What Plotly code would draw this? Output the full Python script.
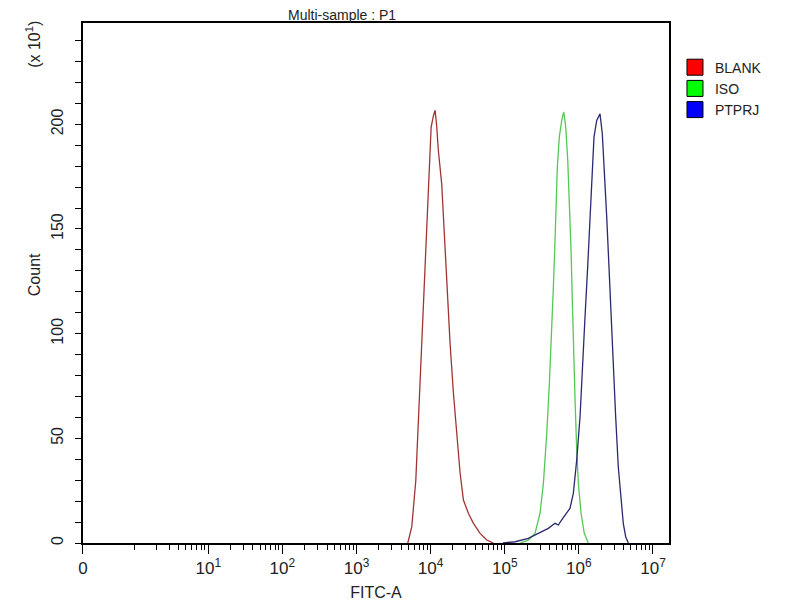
import plotly.graph_objects as go

# =========================================================
# DATA (FITC-A intensity vs count / 10)
# =========================================================
blank_x = [4920, 5570, 6310, 6840, 7600, 8000, 8690, 9160, 9630, 10160,
           10900, 11500, 12100, 12700, 14100, 15300, 16500, 18300, 20300,
           22500, 25000, 27700, 32300, 37800, 46500, 57200, 70200]
blank_y = [0, 7.8, 30, 58.7, 93.7, 117.6, 144.6, 163.7, 179.6, 198.7,
           204, 206.7, 198.7, 187.6, 171.7, 147.8, 124, 95.3, 71.5,
           52.4, 33.3, 20.5, 14.2, 9.4, 4.6, 1.4, 0]

iso_x = [161000, 208000, 256000, 299000, 332000, 369000, 400000, 431000,
         453000, 477000, 492000, 512000, 545000, 587000, 625000, 665000,
         708000, 744000, 784000, 816000, 861000, 888000, 935000, 984000,
         1070000, 1183000, 1340000]
iso_y = [0, 1.4, 4.6, 14.2, 28.5, 52.4, 76.2, 100, 122.4, 144.6, 163.7,
         179.6, 194, 201.9, 205.9, 198.7, 182.8, 163.7, 139.9, 116, 92.1,
         68.3, 44.4, 28.5, 14.2, 4.6, 0]

ptprj_x = [94900, 138000, 208000, 284000, 387000, 477000, 528000, 587000,
           686000, 760000, 842000, 935000, 1037000, 1113000, 1210000,
           1315000, 1413000, 1490000, 1600000, 1741000, 1928000, 2071000,
           2203000, 2375000, 2548000, 2712000, 2914000, 3137000, 3402000,
           3700000, 3974000, 4283000, 4645000]
ptprj_y = [0, 0.6, 2.2, 4.6, 7, 9.4, 8.6, 11, 14.2, 16.6, 23.7, 39.6, 60.3,
           84.2, 108, 131.9, 154.2, 174.8, 194, 201.9, 205, 195.5, 179.6,
           155.8, 131.9, 108, 84.2, 60.3, 36.4, 20.5, 9.4, 3, 0]

series_names = ["BLANK", "ISO", "PTPRJ"]
line_colors = ["#a03434", "#55c855", "#2a2a70"]
legend_colors = ["#ff0000", "#00ff00", "#0000ff"]

# x axis: "0" sits at the left edge of the log scale
x_tickvals = [0.204, 1e1, 1e2, 1e3, 1e4, 1e5, 1e6, 1e7]
x_ticktext = ["0", "10<sup>1</sup>", "10<sup>2</sup>", "10<sup>3</sup>",
              "10<sup>4</sup>", "10<sup>5</sup>", "10<sup>6</sup>", "10<sup>7</sup>"]
x_minor = [k * 10 ** e for e in range(0, 7) for k in range(1, 10) if k > 1 or e == 0]

y_tickvals = [0, 50, 100, 150, 200]

FONT = "Liberation Sans, Arial, sans-serif"
TXT = "#222"

# =========================================================
# FIGURE
# =========================================================
fig = go.Figure()

for xs, ys, c in zip([blank_x, iso_x, ptprj_x], [blank_y, iso_y, ptprj_y], line_colors):
    fig.add_trace(go.Scatter(
        x=xs, y=ys, mode="lines",
        line=dict(color=c, width=1.3),
        showlegend=False, hoverinfo="skip"
    ))

# legend entries as filled squares
for name, c in zip(series_names, legend_colors):
    fig.add_trace(go.Scatter(
        x=[None], y=[None], mode="markers", name=name,
        marker=dict(symbol="square", size=16, color=c,
                    line=dict(color="black", width=1))
    ))

fig.update_layout(
    width=800, height=600,
    margin=dict(l=75, r=139, t=15, b=65),
    paper_bgcolor="white", plot_bgcolor="white",
    font=dict(family=FONT, size=16, color=TXT),
    title=dict(text="Multi-sample : P1", x=0.35, xref="container",
               y=0.9875, yref="container", xanchor="left", yanchor="middle",
               font=dict(size=14, family=FONT, color=TXT)),
    legend=dict(x=1.0102, y=0.945, xanchor="left", yanchor="top",
                font=dict(size=14, family=FONT, color=TXT),
                tracegroupgap=0, itemsizing="trace", bgcolor="rgba(0,0,0,0)"),
    xaxis=dict(
        type="log", range=[-0.69, 7.216], automargin=False,
        tickmode="array", tickvals=x_tickvals, ticktext=x_ticktext,
        ticks="outside", ticklen=9, tickwidth=1.2, tickcolor="black",
        minor=dict(tickmode="array", tickvals=x_minor, ticks="outside",
                   ticklen=5, tickwidth=1.2, tickcolor="black", showgrid=False),
        showline=True, linecolor="black", linewidth=1.5, mirror=True,
        showgrid=False, zeroline=False,
        tickfont=dict(size=17, family=FONT, color=TXT),
        title=dict(text="FITC-A", standoff=10, font=dict(size=16, family=FONT, color=TXT)),
    ),
    yaxis=dict(
        range=[0, 248.4], automargin=False,
        tickmode="array", tickvals=y_tickvals, tickangle=-90,
        ticks="outside", ticklen=6, tickwidth=1.2, tickcolor="black",
        ticklabelstandoff=6,
        minor=dict(dtick=10, ticks="outside", ticklen=6, tickwidth=1.2,
                   tickcolor="black", showgrid=False),
        showline=True, linecolor="black", linewidth=1.5, mirror=True,
        showgrid=False, zeroline=False,
        tickfont=dict(size=16, family=FONT, color=TXT),
    ),
    annotations=[
        dict(text="(x 10<sup>1</sup>)", textangle=-90, showarrow=False,
             xref="paper", yref="paper", x=-0.0853, y=0.958,
             xanchor="center", yanchor="middle",
             font=dict(size=16, family=FONT, color=TXT)),
        dict(text="Count", textangle=-90, showarrow=False,
             xref="paper", yref="paper", x=-0.0836, y=0.515,
             xanchor="center", yanchor="middle",
             font=dict(size=16, family=FONT, color=TXT)),
    ],
)

fig.write_html("out.html")
